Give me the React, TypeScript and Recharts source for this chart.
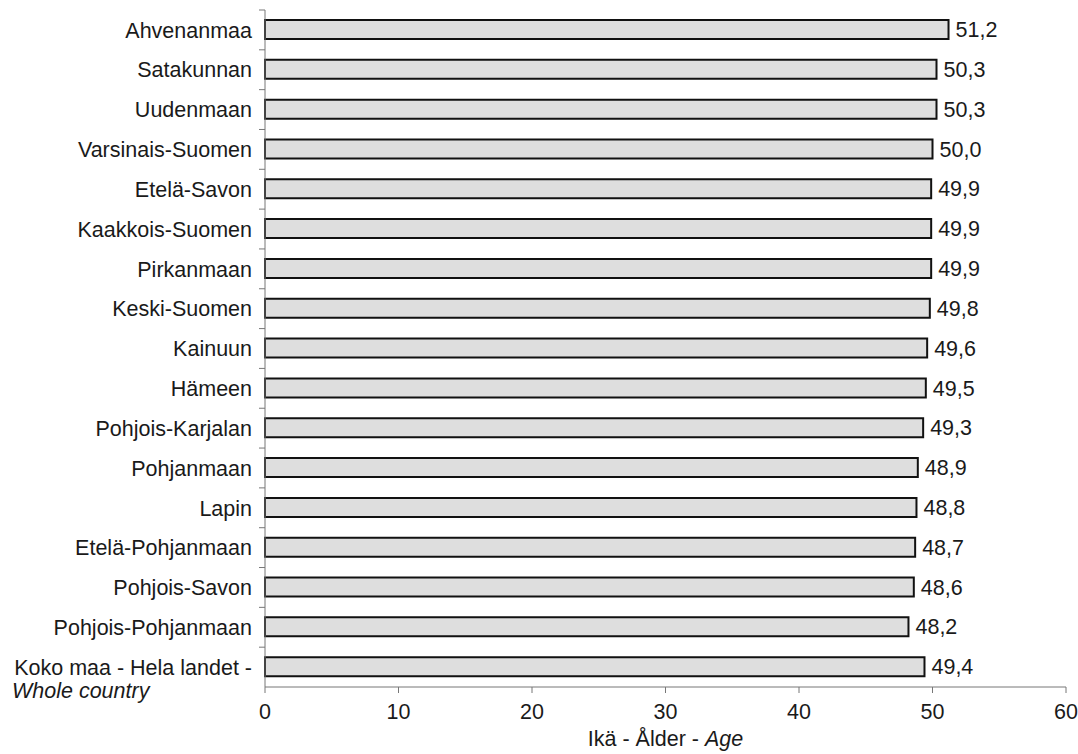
import { BarChart, Bar, XAxis, YAxis, LabelList, Label } from 'recharts'

// Median age by region (Finnish regions)
const regions = [
  'Ahvenanmaa',
  'Satakunnan',
  'Uudenmaan',
  'Varsinais-Suomen',
  'Etelä-Savon',
  'Kaakkois-Suomen',
  'Pirkanmaan',
  'Keski-Suomen',
  'Kainuun',
  'Hämeen',
  'Pohjois-Karjalan',
  'Pohjanmaan',
  'Lapin',
  'Etelä-Pohjanmaan',
  'Pohjois-Savon',
  'Pohjois-Pohjanmaan',
  'Koko maa - Hela landet -|Whole country',
]
const ages = [51.2, 50.3, 50.3, 50.0, 49.9, 49.9, 49.9, 49.8, 49.6, 49.5, 49.3, 48.9, 48.8, 48.7, 48.6, 48.2, 49.4]
const xTicks = [0, 10, 20, 30, 40, 50, 60]

const FONT = '"Liberation Sans", Arial, sans-serif'
const FS = 21.5
const W = 1078
const H = 754
const TOP = 10
const X_AXIS_H = 67
const BAND = (H - TOP - X_AXIS_H) / regions.length

const data = regions.map((r, i) => ({ region: r, age: ages[i] }))

function RegionTick(props: any) {
  const { x, y, payload } = props
  const parts = String(payload.value).split('|')
  return (
    <g>
      <line x1={x + 7} x2={x + 13} y1={y - BAND / 2} y2={y - BAND / 2} stroke="#777" strokeWidth={1} />
      <text x={x} y={y} dy="0.36em" textAnchor="end" fill="#1a1a1a" fontSize={FS} fontFamily={FONT}>
        {parts[0]}
      </text>
      {parts[1] && (
        <text x={12} y={y + 23} dy="0.36em" textAnchor="start" fill="#1a1a1a" fontSize={FS} fontFamily={FONT} fontStyle="italic">
          {parts[1]}
        </text>
      )}
    </g>
  )
}

function AxisTitle(props: any) {
  const { viewBox } = props
  const cx = viewBox.x + viewBox.width / 2
  return (
    <text x={cx} y={viewBox.y + 59} textAnchor="middle" fill="#1a1a1a" fontSize={FS} fontFamily={FONT}>
      Ikä - Ålder - <tspan fontStyle="italic">Age</tspan>
    </text>
  )
}

export default function App() {
  return (
    <div style={{ position: 'absolute', left: 0, top: 0, width: W, height: H, background: '#fff' }}>
      <BarChart
        width={W}
        height={H}
        data={data}
        layout="vertical"
        margin={{ top: TOP, right: 12, bottom: 0, left: 0 }}
        barCategoryGap={0}
      >
        <XAxis
          type="number"
          domain={[0, 60]}
          ticks={xTicks}
          interval={0}
          height={X_AXIS_H}
          axisLine={{ stroke: '#777', strokeWidth: 1 }}
          tickLine={{ stroke: '#777', strokeWidth: 1 }}
          tickSize={6}
          tickMargin={11}
          tick={{ fill: '#1a1a1a', fontSize: FS, fontFamily: FONT }}
        >
          <Label content={<AxisTitle />} />
        </XAxis>
        <YAxis
          type="category"
          dataKey="region"
          width={265}
          interval={0}
          axisLine={{ stroke: '#777', strokeWidth: 1 }}
          tickLine={false}
          tickSize={0}
          tickMargin={13}
          tick={<RegionTick />}
        />
        <Bar dataKey="age" fill="#dedede" stroke="#111" strokeWidth={2} barSize={19} isAnimationActive={false}>
          <LabelList
            dataKey="age"
            position="right"
            offset={7}
            formatter={(v: any) => Number(v).toFixed(1).replace('.', ',')}
            style={{ fill: '#1a1a1a', fontSize: FS, fontFamily: FONT }}
          />
        </Bar>
      </BarChart>
    </div>
  )
}
